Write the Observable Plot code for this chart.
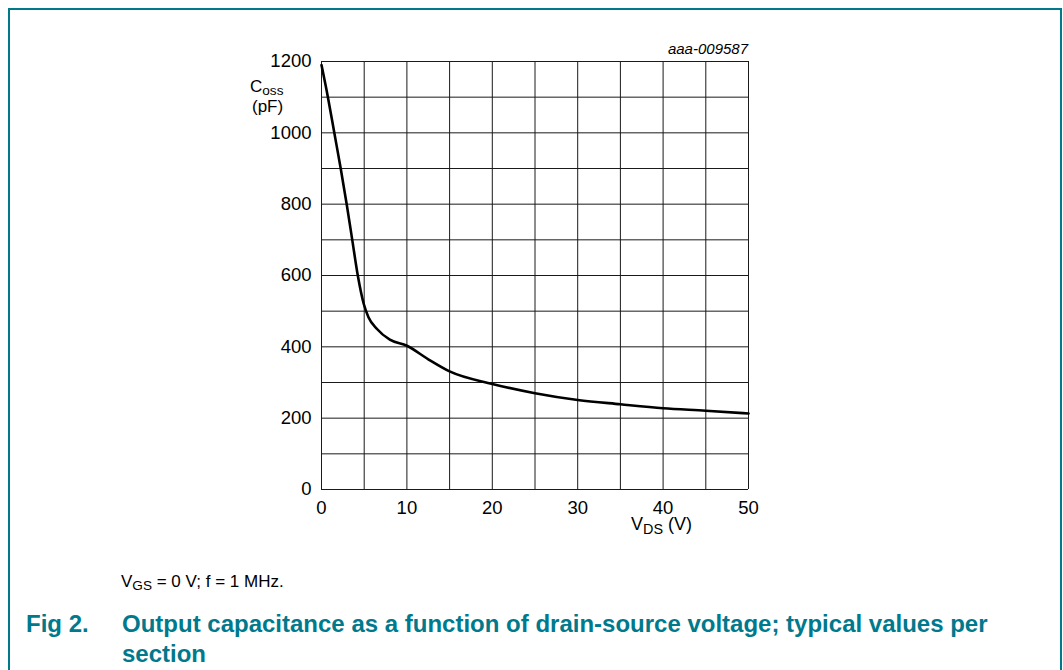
<!DOCTYPE html>
<html>
<head>
<meta charset="utf-8">
<script src="https://cdn.jsdelivr.net/npm/d3@7"></script>
<script src="https://cdn.jsdelivr.net/npm/@observablehq/plot@0.6"></script>
<style>
  html, body { margin: 0; padding: 0; background: #fff; }
  body { width: 1063px; height: 670px; position: relative; overflow: hidden; font-family: "Liberation Sans", Arial, sans-serif; }
  .frame { position: absolute; left: 8px; top: 8px; width: 1054px; height: 700px; border-left: 2px solid #00798c; border-top: 2px solid #00798c; border-right: 2px solid #00798c; box-sizing: border-box; }
  .t { position: absolute; white-space: nowrap; color: #000; }
  sub { font-size: 0.8em; vertical-align: -0.25em; line-height: 0; }
  #chart { position: absolute; left: 0; top: 0; }
</style>
</head>
<body>
<div class="frame"></div>
<div id="chart"></div>
<div class="t" style="left:250px; top:78px; font-size:17px; line-height:17px;">C<sub>oss</sub></div>
<div class="t" style="left:252px; top:98px; font-size:17px; line-height:17px;">(pF)</div>
<div class="t" style="left:631px; top:514px; font-size:18px;">V<sub>DS</sub> (V)</div>
<div class="t" style="right:315px; top:40px; font-size:15px; font-style:italic;">aaa-009587</div>
<div class="t" style="left:121px; top:572px; font-size:17px;">V<sub>GS</sub> = 0 V; f = 1 MHz.</div>
<div class="t" style="left:26px; top:609px; font-size:24px; line-height:30px; font-weight:bold; color:#00798c;">Fig 2.</div>
<div class="t" style="left:122px; top:609px; font-size:24px; font-weight:bold; color:#00798c; line-height:30px;">Output capacitance as a function of drain-source voltage; typical values per<br>section</div>
<script>
// Data
const vds  = [0, 0.75, 1.5, 2.25, 2.95, 3.6, 4.25, 4.95, 5.5, 6.5, 8.0, 10, 12.5, 15, 20, 25, 30, 35, 40, 45, 50];
const coss = [1190, 1100, 1000, 900, 800, 700, 600, 520, 483, 450, 420, 403, 365, 331, 296, 270, 251, 239, 228, 221, 213];
const xTicks = [0, 10, 20, 30, 40, 50];
const yTicks = [0, 200, 400, 600, 800, 1000, 1200];
const xGrid = d3.range(0, 51, 5);
const yGrid = d3.range(0, 1201, 100);

const data = vds.map((v, i) => ({v, c: coss[i]}));

const chart = Plot.plot({
  width: 1063,
  height: 560,
  marginLeft: 321,
  marginRight: 315,
  marginTop: 61,
  marginBottom: 71,
  style: {fontFamily: "'Liberation Sans', Arial, sans-serif", fontSize: "18.5px", background: "transparent", color: "#000"},
  x: {domain: [0, 50]},
  y: {domain: [0, 1200]},
  marks: [
    Plot.ruleX(xGrid, {stroke: "#1a1a1a", strokeWidth: 1}),
    Plot.ruleY(yGrid, {stroke: "#1a1a1a", strokeWidth: 1}),
    Plot.axisX({ticks: xTicks, tickSize: 0, tickPadding: 11, label: null, fontSize: 18.5, tickFormat: d3.format("d")}),
    Plot.axisY({ticks: yTicks, tickSize: 0, tickPadding: 10, label: null, fontSize: 18.5, tickFormat: d3.format("d")}),
    Plot.line(data, {x: "v", y: "c", curve: "monotone-x", stroke: "#000", strokeWidth: 2.6})
  ]
});
document.getElementById("chart").appendChild(chart);
</script>
</body>
</html>
